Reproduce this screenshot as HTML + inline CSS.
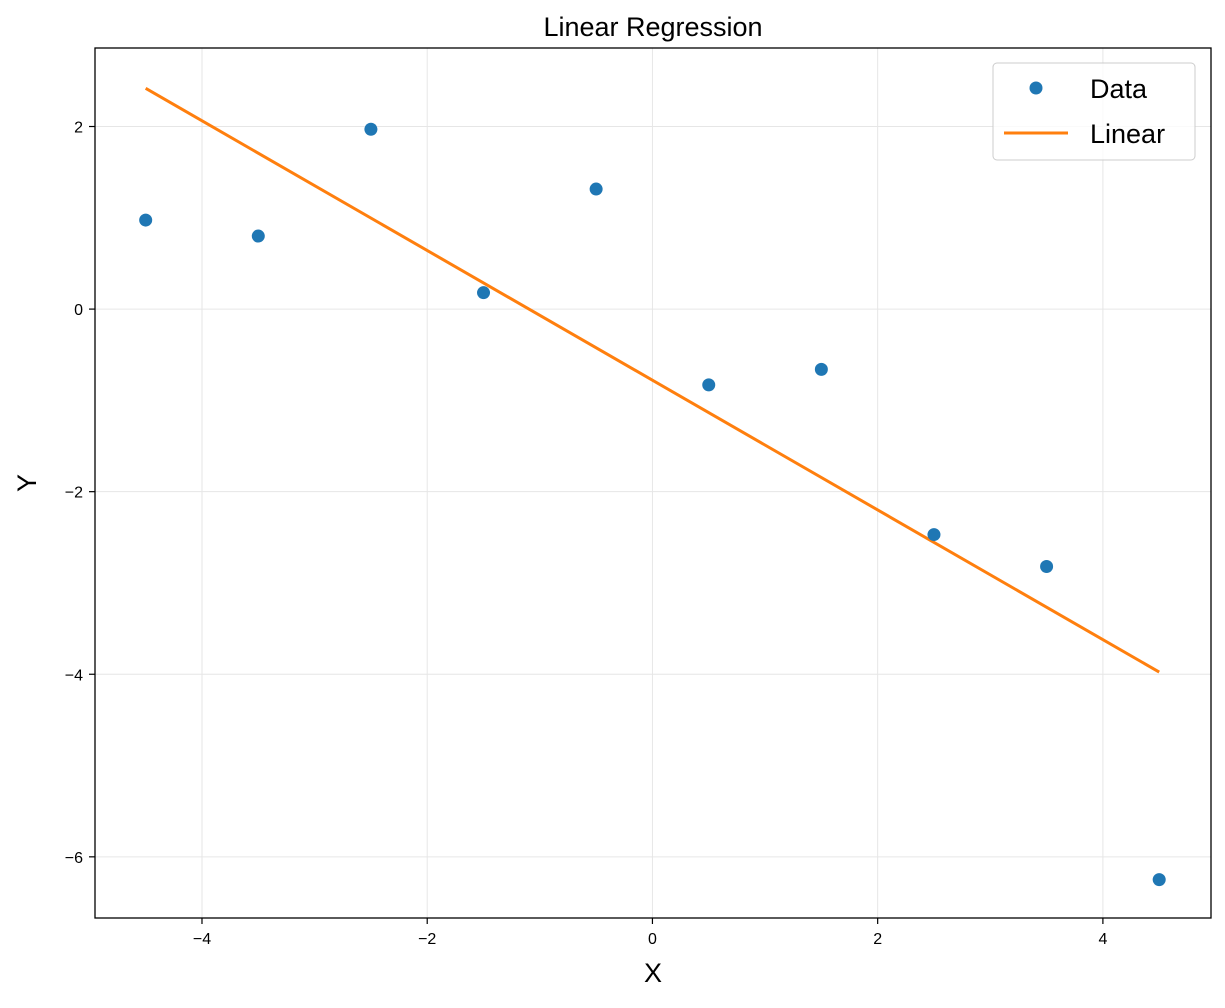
<!DOCTYPE html>
<html><head><meta charset="utf-8"><style>
body{margin:0;background:#fff}
svg text{font-family:"Liberation Sans","DejaVu Sans",sans-serif}
</style></head><body>
<svg id="chart" width="1225" height="1003" xmlns="http://www.w3.org/2000/svg">
<rect width="1225" height="1003" fill="#fff"/>
<g id="grid"></g>
<g id="ticks"></g>
<g id="series"></g>
<rect x="95" y="48" width="1116" height="870" fill="none" stroke="#000" stroke-width="1.3"/>
<text x="653" y="36" font-size="27" text-anchor="middle">Linear Regression</text>
<text x="653" y="982" font-size="27" text-anchor="middle">X</text>
<text transform="translate(36,483) rotate(-90)" font-size="27" text-anchor="middle">Y</text>
<g>
<rect x="993" y="63" width="202" height="97" rx="4" fill="#fff" fill-opacity="0.8" stroke="#ccc"/>
<circle cx="1036" cy="88" r="6.5" fill="#1f77b4"/>
<text x="1090" y="98" font-size="27">Data</text>
<line x1="1004" y1="133" x2="1068" y2="133" stroke="#ff7f0e" stroke-width="3"/>
<text x="1090" y="143" font-size="27">Linear</text>
</g>
</svg>
<script>
const xs=[-4.5,-3.5,-2.5,-1.5,-0.5,0.5,1.5,2.5,3.5,4.5];
const ys=[0.975,0.80,1.97,0.18,1.315,-0.83,-0.66,-2.47,-2.82,-6.25];
const xTicks=[-4,-2,0,2,4];
const yTicks=[2,0,-2,-4,-6];
const xMin=-4.95,xMax=4.96,yMin=-6.67,yMax=2.86;
const L=95,R=1211,T=48,B=918;
const sx=v=>L+(v-xMin)/(xMax-xMin)*(R-L);
const sy=v=>B-(v-yMin)/(yMax-yMin)*(B-T);
const NS="http://www.w3.org/2000/svg";
function mk(tag,attrs,parent){const e=document.createElementNS(NS,tag);for(const k in attrs)e.setAttribute(k,attrs[k]);document.getElementById(parent).appendChild(e);return e;}
xTicks.forEach(t=>{
 const g=mk('line',{x1:sx(t),x2:sx(t),y1:T,y2:B,stroke:'#e6e6e6','stroke-width':1},'grid');
 
 
 const tk=mk('line',{x1:sx(t),x2:sx(t),y1:B,y2:B+6,stroke:'#000','stroke-width':1.2},'ticks');
 
 
 const lb=mk('text',{x:sx(t),y:B+26,'font-size':16,'text-anchor':'middle'},'ticks');
 lb.textContent=(t<0?'\u2212'+(-t):t);
 
 
});
yTicks.forEach(t=>{
 const g=mk('line',{x1:L,x2:R,y1:sy(t),y2:sy(t),stroke:'#e6e6e6','stroke-width':1},'grid');
 
 
 const tk=mk('line',{x1:L-6,x2:L,y1:sy(t),y2:sy(t),stroke:'#000','stroke-width':1.2},'ticks');
 
 
 const lb=mk('text',{x:L-12,y:sy(t)+6,'font-size':16,'text-anchor':'end'},'ticks');
 lb.textContent=(t<0?'\u2212'+(-t):t);
 
 
});
// least squares fit
const n=xs.length,mx=xs.reduce((a,b)=>a+b)/n,my=ys.reduce((a,b)=>a+b)/n;
let sxy=0,sxx=0;xs.forEach((x,i)=>{sxy+=(x-mx)*(ys[i]-my);sxx+=(x-mx)**2;});
const slope=sxy/sxx,icpt=my-slope*mx;
const x0=Math.min(...xs),x1=Math.max(...xs);
const ln=mk('line',{x1:sx(x0),y1:sy(icpt+slope*x0),x2:sx(x1),y2:sy(icpt+slope*x1),stroke:'#ff7f0e','stroke-width':3},'series');


xs.forEach((x,i)=>{
 const c=mk('circle',{cx:sx(x),cy:sy(ys[i]),r:6.5,fill:'#1f77b4'},'series');
 
 
});
</script>
</body></html>
